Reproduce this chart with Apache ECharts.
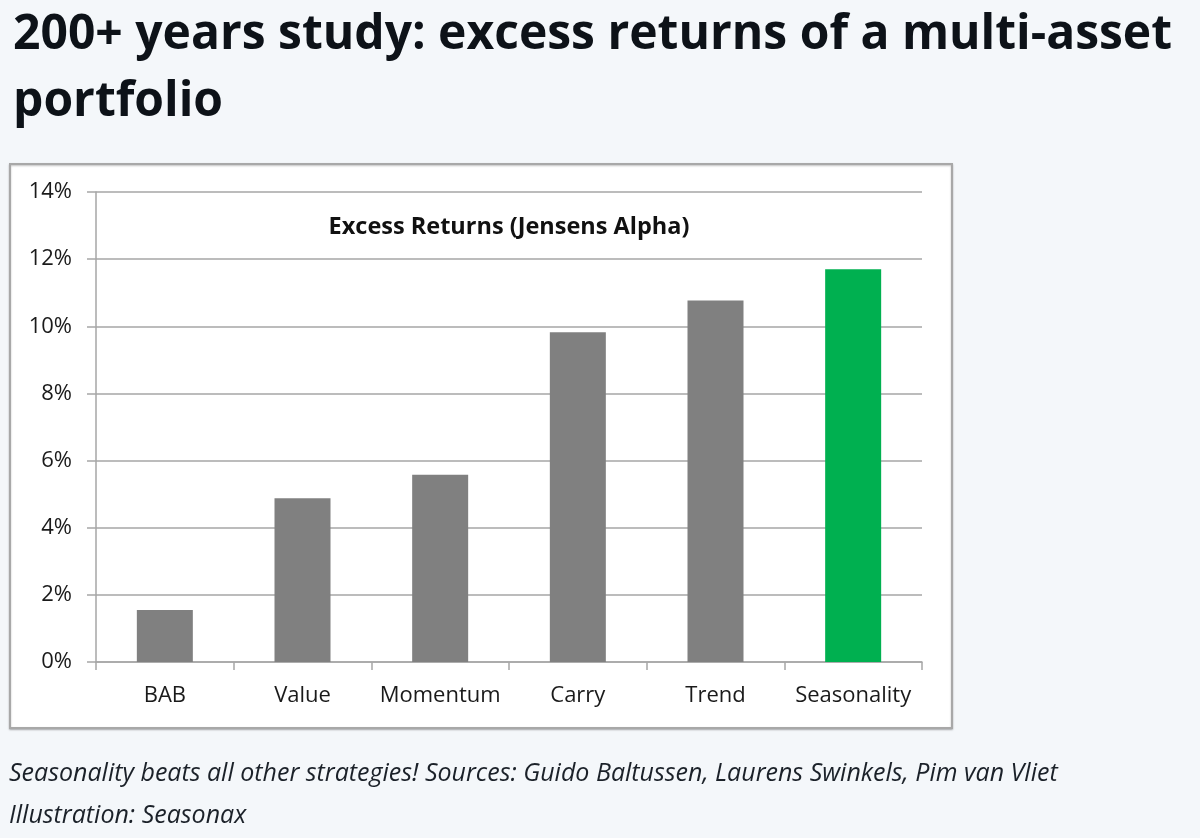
<!DOCTYPE html>
<html>
<head>
<meta charset="utf-8">
<script src="https://cdn.jsdelivr.net/npm/echarts@6/dist/echarts.min.js"></script>
<style>
  html, body { margin: 0; padding: 0; background: #f4f7fa; }
  #chart { width: 1200px; height: 838px; }
</style>
</head>
<body>
<div id="chart"></div>
<script>
// strategies and their excess returns (%)
var categories = ['BAB', 'Value', 'Momentum', 'Carry', 'Trend', 'Seasonality'];
var excessReturns = [1.55, 4.88, 5.58, 9.82, 10.77, 11.70];
var barColors = ['#808080', '#808080', '#808080', '#808080', '#808080', '#00b050'];

var pageTitle = '200+ years study: excess returns of a multi-asset\nportfolio';
var innerTitle = 'Excess Returns (Jensens Alpha)';
var captionLines = [
    'Seasonality beats all other strategies! Sources: Guido Baltussen, Laurens Swinkels, Pim van Vliet',
    'Illustration: Seasonax'
];

var myChart = echarts.init(document.getElementById('chart'));

var gridColor = '#a6a6a6';
var labelFont = 'Open Sans';

var option = {
    backgroundColor: '#f4f7fa',
    animation: false,
    title: {
        text: pageTitle,
        left: 8,
        top: -3,
        textStyle: {
            fontFamily: 'Open Sans',
            fontWeight: 'bold',
            fontSize: 48,
            lineHeight: 67,
            color: '#0d1218'
        }
    },
    graphic: [
        {
            type: 'rect',
            z: -1,
            shape: { x: 10, y: 164, width: 942, height: 564 },
            style: {
                fill: '#ffffff', stroke: '#a8a8a8', lineWidth: 2,
                shadowBlur: 2, shadowOffsetY: 1, shadowColor: 'rgba(0,0,0,0.25)'
            }
        },
        {
            type: 'text',
            style: {
                text: innerTitle,
                x: 509, y: 227,
                textAlign: 'center', textVerticalAlign: 'middle',
                font: 'bold 23.5px "Open Sans"',
                fill: '#111'
            }
        },
        {
            type: 'text',
            style: {
                text: captionLines[0],
                x: 9, y: 774,
                textVerticalAlign: 'middle',
                font: 'italic 25px "Open Sans"',
                fill: '#1b2129'
            }
        },
        {
            type: 'text',
            style: {
                text: captionLines[1],
                x: 9, y: 816,
                textVerticalAlign: 'middle',
                font: 'italic 25px "Open Sans"',
                fill: '#1b2129'
            }
        }
    ],
    grid: {
        left: 96,
        right: 278,
        top: 192,
        bottom: 176,
        containLabel: false
    },
    xAxis: {
        type: 'category',
        data: categories,
        axisLine: { lineStyle: { color: gridColor, width: 1.5 } },
        axisTick: { show: true, interval: 0, length: 8, lineStyle: { color: gridColor, width: 1.5 } },
        axisLabel: { interval: 0, margin: 23, fontFamily: labelFont, fontSize: 22, color: '#1a1a1a' }
    },
    yAxis: {
        type: 'value',
        min: 0,
        max: 14,
        interval: 2,
        axisLine: { show: true, lineStyle: { color: gridColor, width: 1.5 } },
        axisTick: { show: true, length: 9, lineStyle: { color: gridColor, width: 1.5 } },
        splitLine: { lineStyle: { color: gridColor, width: 1.5 } },
        axisLabel: {
            margin: 24,
            fontFamily: labelFont,
            fontSize: 22,
            color: '#1a1a1a',
            formatter: '{value}%'
        }
    },
    series: [{
        name: 'Excess Returns',
        type: 'bar',
        barWidth: 56,
        data: excessReturns.map(function (v, i) {
            return { value: v, itemStyle: { color: barColors[i] } };
        })
    }]
};

myChart.setOption(option);
</script>
</body>
</html>
